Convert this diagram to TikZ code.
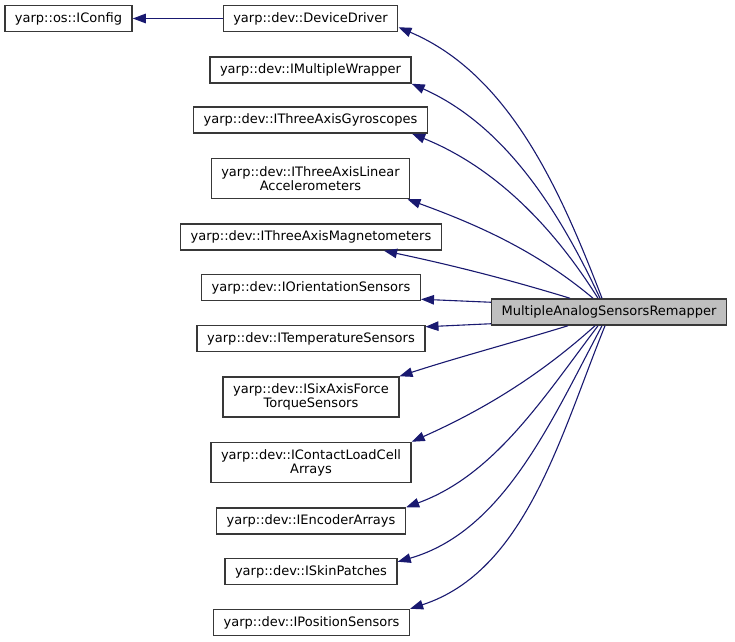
\documentclass[tikz,border=0pt]{standalone}
\usepackage{fontspec}
\setmainfont{DejaVu Sans}
\usetikzlibrary{arrows.meta}
\definecolor{edgeblue}{HTML}{191970}
\definecolor{boxline}{HTML}{383838}
\definecolor{boxfill}{HTML}{BFBFBF}

\begin{document}
\begin{tikzpicture}[x=1pt, y=1pt,
  box/.style={draw=boxline, line width=1.5pt, fill=white, inner xsep=10pt, inner ysep=2pt,
    minimum height=26pt, align=center, font=\fontsize{13}{14}\selectfont},
  twoline/.style={box, minimum height=40pt},
  current/.style={box, fill=boxfill},
  inherit/.style={draw=edgeblue, line width=1.1pt, -{Triangle[length=13pt, width=9.5pt]}, looseness=0.9}]
% Set the picture size
\useasboundingbox (0,0) rectangle (735,641);

% Draw the boxes
\node[box] (config) at (68.5, 622.5) {yarp::os::IConfig};
\node[box] (driver) at (310.5, 622.5) {yarp::dev::DeviceDriver};
\node[box] (wrapper) at (310.5, 571) {yarp::dev::IMultipleWrapper};
\node[box] (gyro) at (310.5, 521) {yarp::dev::IThreeAxisGyroscopes};
\node[twoline] (accel) at (310.5, 462.5) {yarp::dev::IThreeAxisLinear\\Accelerometers};
\node[box] (magneto) at (311, 404) {yarp::dev::IThreeAxisMagnetometers};
\node[box] (orient) at (311, 353.5) {yarp::dev::IOrientationSensors};
\node[box] (temp) at (311, 302.5) {yarp::dev::ITemperatureSensors};
\node[twoline] (sixaxis) at (311, 244) {yarp::dev::ISixAxisForce\\TorqueSensors};
\node[twoline] (contact) at (311, 178.5) {yarp::dev::IContactLoadCell\\Arrays};
\node[box] (encoder) at (311, 120) {yarp::dev::IEncoderArrays};
\node[box] (skin) at (311, 69.5) {yarp::dev::ISkinPatches};
\node[box] (position) at (311.5, 18.5) {yarp::dev::IPositionSensors};
\node[current] (remapper) at (609, 329) {MultipleAnalogSensorsRemapper};

% Draw the arrows
\draw[inherit] (driver) -- (config);
\draw[inherit] ([xshift=-7pt]remapper.north) to[out=111, in=-23] ([yshift=5pt]driver.south east);
\draw[inherit] ([xshift=-9pt]remapper.north) to[out=115, in=-24] (wrapper.south east);
\draw[inherit] ([xshift=-11pt]remapper.north) to[out=122, in=-22] ([xshift=-16pt]gyro.south east);
\draw[inherit] ([xshift=-16pt]remapper.north) to[out=140, in=-20] ([xshift=-3pt]accel.south east);
\draw[inherit] ([xshift=-39pt]remapper.north) to[out=163, in=-12] ([xshift=-58pt]magneto.south east);
\draw[inherit] ([yshift=-4pt]remapper.north west) -- ([yshift=2pt]orient.south east);
\draw[inherit] ([yshift=2pt]remapper.south west) -- ([yshift=-2pt]temp.north east);
\draw[inherit] ([xshift=-41pt]remapper.south) to[out=-163, in=18] (sixaxis.north east);
\draw[inherit] ([xshift=-14pt]remapper.south) to[out=-138, in=24] (contact.north east);
\draw[inherit] ([xshift=-11pt]remapper.south) to[out=-127, in=20] (encoder.north east);
\draw[inherit] ([xshift=-7pt]remapper.south) to[out=-118, in=16] ([yshift=-4pt]skin.north east);
\draw[inherit] ([xshift=-4pt]remapper.south) to[out=-112, in=18] (position.north east);
\end{tikzpicture}
\end{document}
